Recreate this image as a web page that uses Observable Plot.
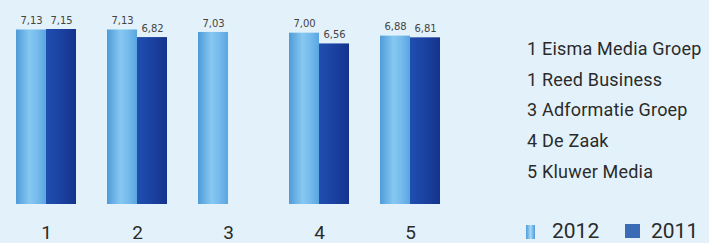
<!DOCTYPE html>
<html>
<head>
<meta charset="utf-8">
<script src="https://cdn.jsdelivr.net/npm/d3@7"></script>
<script src="https://cdn.jsdelivr.net/npm/@observablehq/plot@0.6"></script>
<style>
  body { margin: 0; }
  #wrap { position: relative; width: 709px; height: 243px; background: #e3f2fa; overflow: hidden; font-family: Roboto, sans-serif; color: #2b2b2b; }
  #chart { position: absolute; left: 0; top: 0; }
  .leg { position: absolute; left: 527px; font-size: 18px; line-height: 1; white-space: nowrap; letter-spacing: 0.2px; }
  .yr { position: absolute; font-size: 21px; line-height: 1; white-space: nowrap; }
  .sw { position: absolute; }
</style>
</head>
<body>
<svg width="0" height="0" style="position:absolute">
  <defs>
    <linearGradient id="g2012" x1="0" x2="1" y1="0" y2="0">
      <stop offset="0" stop-color="#4f9bd9"/>
      <stop offset="0.45" stop-color="#86c8f1"/>
      <stop offset="0.7" stop-color="#76bbec"/>
      <stop offset="1" stop-color="#5aa5e0"/>
    </linearGradient>
    <linearGradient id="g2011" x1="0" x2="1" y1="0" y2="0">
      <stop offset="0" stop-color="#1f4fb0"/>
      <stop offset="0.35" stop-color="#1c46a6"/>
      <stop offset="1" stop-color="#15338d"/>
    </linearGradient>
  </defs>
</svg>
<div id="wrap">
  <div id="chart"></div>
</div>
<script>
const groups = ["1", "2", "3", "4", "5"];
const years = ["2012", "2011"];
const values2012 = [7.13, 7.13, 7.03, 7.00, 6.88];
const values2011 = [7.15, 6.82, null, 6.56, 6.81];
const legendNames = ["1 Eisma Media Groep", "1 Reed Business", "3 Adformatie Groep", "4 De Zaak", "5 Kluwer Media"];

const data = [];
groups.forEach((g, i) => {
  if (values2012[i] != null) data.push({group: g, year: "2012", value: values2012[i]});
  if (values2011[i] != null) data.push({group: g, year: "2011", value: values2011[i]});
});
const fmt = v => v.toFixed(2).replace(".", ",");

const plot = Plot.plot({
  width: 709,
  height: 243,
  marginTop: 29,
  marginBottom: 39,
  marginLeft: 15,
  marginRight: 268,
  style: {background: "transparent", fontFamily: "Roboto, sans-serif"},
  fx: {domain: groups, paddingInner: 0.344, paddingOuter: 0, label: null},
  x: {domain: years, padding: 0, axis: null},
  y: {domain: [0, 7.15], axis: null},
  marks: [
    Plot.axisFx({anchor: "bottom", tickSize: 0, tickPadding: 21, fontSize: 19, fill: "#2b2b2b", label: null}),
    Plot.barY(data.filter(d => d.year === "2012"), {fx: "group", x: "year", y: "value", fill: "url(#g2012)"}),
    Plot.barY(data.filter(d => d.year === "2011"), {fx: "group", x: "year", y: "value", fill: "url(#g2011)"}),
    Plot.text(data, {fx: "group", x: "year", y: "value", text: d => fmt(d.value), dy: -9, fontSize: 10, fontFamily: "DejaVu Sans", fill: "#444"})
  ]
});
const wrap = document.getElementById("wrap");
document.getElementById("chart").appendChild(plot);

const tops = [40, 71, 101, 132, 163];
legendNames.forEach((n, i) => {
  const d = document.createElement("div");
  d.className = "leg";
  d.style.top = tops[i] + "px";
  d.textContent = n;
  wrap.appendChild(d);
});
// year legend
const sw1 = document.createElement("div");
sw1.className = "sw";
Object.assign(sw1.style, {left: "526px", top: "225px", width: "9px", height: "14px", background: "linear-gradient(90deg,#4f9bd9,#a6d8f5,#4f9bd9)"});
wrap.appendChild(sw1);
const t1 = document.createElement("div");
t1.className = "yr"; t1.style.left = "552px"; t1.style.top = "221px"; t1.textContent = years[0];
wrap.appendChild(t1);
const sw2 = document.createElement("div");
sw2.className = "sw";
Object.assign(sw2.style, {left: "625px", top: "224px", width: "15px", height: "14px", background: "#3a6cb6"});
wrap.appendChild(sw2);
const t2 = document.createElement("div");
t2.className = "yr"; t2.style.left = "651px"; t2.style.top = "221px"; t2.textContent = years[1];
wrap.appendChild(t2);
</script>
</body>
</html>
